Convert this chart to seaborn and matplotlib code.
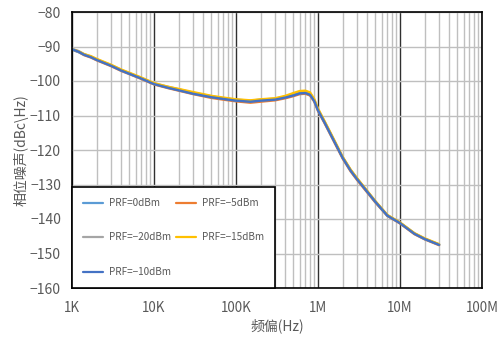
import numpy as np
import pandas as pd
import matplotlib
matplotlib.use("Agg")
import matplotlib.pyplot as plt
from matplotlib.ticker import FixedLocator, NullFormatter
from matplotlib.lines import Line2D
import seaborn as sns

sns.set_style("white")
plt.rcParams['font.family'] = ['Noto Sans CJK SC', 'DejaVu Sans']
plt.rcParams['axes.unicode_minus'] = True

freq = [1e3, 1.2e3, 1.4e3, 1.7e3, 2e3, 3e3, 4e3, 5e3, 7e3, 1e4, 1.5e4, 2e4, 3e4, 5e4, 7e4,
        1e5, 1.5e5, 2e5, 3e5, 4e5, 5e5, 6e5, 7e5, 8e5, 9e5, 1e6, 1.2e6, 1.5e6, 2e6, 2.5e6,
        3e6, 5e6, 7e6, 1e7, 1.5e7, 2e7, 3e7]

prf_0 = [-90.9, -91.6, -92.3, -93.0, -93.8, -95.5, -96.9, -97.9, -99.2, -100.8, -101.9, -102.6,
         -103.6, -104.6, -105.1, -105.6, -105.9, -105.6, -105.3, -104.7, -104.1, -103.5, -103.4,
         -103.9, -105.7, -108.4, -111.9, -116.4, -122.2, -125.9, -128.4, -135.0, -139.0, -141.1,
         -144.2, -145.8, -147.4]
prf_m5 = [-90.9, -91.6, -92.5, -93.2, -94.0, -95.7, -97.1, -98.0, -99.4, -101.0, -102.1, -102.8,
          -103.8, -104.9, -105.4, -105.9, -106.3, -106.0, -105.6, -105.0, -104.4, -103.8, -103.7,
          -104.2, -106.0, -108.7, -112.2, -116.7, -122.5, -126.2, -128.7, -135.2, -139.1, -141.3,
          -144.4, -145.9, -147.6]
prf_m20 = [-90.7, -91.3, -92.2, -92.9, -93.7, -95.4, -96.8, -97.7, -99.1, -100.7, -101.7, -102.4,
           -103.4, -104.4, -105.0, -105.4, -105.7, -105.4, -105.1, -104.5, -103.8, -103.2, -103.1,
           -103.6, -105.5, -108.2, -111.8, -116.3, -122.1, -125.8, -128.3, -134.9, -138.9, -141.1,
           -144.2, -145.7, -147.4]
prf_m15 = [-90.8, -91.4, -92.2, -92.8, -93.6, -95.3, -96.7, -97.6, -99.0, -100.6, -101.7, -102.3,
           -103.2, -104.3, -104.8, -105.3, -105.6, -105.3, -105.0, -104.3, -103.5, -102.9, -102.8,
           -103.3, -105.2, -108.0, -111.6, -116.1, -122.0, -125.7, -128.2, -134.8, -138.8, -141.0,
           -144.1, -145.6, -147.3]
prf_m10 = [-90.8, -91.5, -92.4, -93.1, -93.9, -95.6, -97.0, -97.9, -99.3, -100.9, -102.0, -102.7,
           -103.7, -104.7, -105.2, -105.7, -106.0, -105.7, -105.4, -104.8, -104.2, -103.6, -103.5,
           -104.0, -105.8, -108.5, -112.0, -116.5, -122.3, -126.0, -128.5, -135.0, -139.0, -141.2,
           -144.3, -145.8, -147.5]

series_names = ["PRF=0dBm", "PRF=-5dBm", "PRF=-20dBm", "PRF=-15dBm", "PRF=-10dBm"]
series_vals = [prf_0, prf_m5, prf_m20, prf_m15, prf_m10]
colors = {"PRF=0dBm": "#5B9BD5", "PRF=-5dBm": "#ED7D31", "PRF=-20dBm": "#A5A5A5",
          "PRF=-15dBm": "#FFC000", "PRF=-10dBm": "#4472C4"}

x_ticks = [1e3, 1e4, 1e5, 1e6, 1e7, 1e8]
x_ticklabels = ["1K", "10K", "100K", "1M", "10M", "100M"]
y_ticks = [-80, -90, -100, -110, -120, -130, -140, -150, -160]

rows = []
for name, vals in zip(series_names, series_vals):
    for f, v in zip(freq, vals):
        rows.append({"freq": f, "pn": v, "series": name})
df = pd.DataFrame(rows)

fig = plt.figure(figsize=(4.97, 3.37), dpi=100)
ax = fig.add_axes([72/497, 49/337, 410/497, 276/337])

draw_order = ["PRF=-20dBm", "PRF=-5dBm", "PRF=0dBm", "PRF=-15dBm", "PRF=-10dBm"]
sns.lineplot(data=df, x="freq", y="pn", hue="series", hue_order=draw_order,
             palette=colors, linewidth=1.7, ax=ax, legend=False, estimator=None)

ax.set_xscale("log")
ax.set_xlim(1e3, 1e8)
ax.set_ylim(-160, -80)
ax.xaxis.set_major_locator(FixedLocator(x_ticks))
ax.set_xticklabels(x_ticklabels)
ax.xaxis.set_minor_locator(FixedLocator([m * 10**e for e in range(3, 8) for m in range(2, 10)]))
ax.xaxis.set_minor_formatter(NullFormatter())
ax.set_yticks(y_ticks)
ax.set_yticklabels([f"\u2212{abs(t)}" for t in y_ticks])

ax.grid(False)
ax.grid(True, which="minor", axis="x", color="#BFBFBF", linewidth=1.0)
ax.grid(True, which="major", axis="x", color="#303030", linewidth=1.0)
ax.grid(True, which="major", axis="y", color="#BFBFBF", linewidth=1.0)
ax.set_axisbelow(True)

for s in ax.spines.values():
    s.set_visible(True)
    s.set_color("#000000")
    s.set_linewidth(1.2)

ax.tick_params(axis="both", which="both", length=0, labelsize=10, colors="#595959", pad=8)
ax.tick_params(axis="x", pad=9, labelsize=9.6)

ax.set_xlabel("频偏(Hz)", fontsize=10, color="#595959", labelpad=3)
ax.set_ylabel("相位噪声(dBc\\Hz)", fontsize=10, color="#595959", labelpad=1)

legend_order = ["PRF=0dBm", "PRF=-20dBm", "PRF=-10dBm", "PRF=-5dBm", "PRF=-15dBm"]
handles = [Line2D([0], [0], color=colors[n], linewidth=1.6) for n in legend_order]
leg = ax.legend(handles, [n.replace("-", "\u2212") for n in legend_order], ncol=2,
                loc="lower left", bbox_to_anchor=(0.0, 0.0), fontsize=7.2,
                frameon=True, fancybox=False, framealpha=1, edgecolor="#000000",
                labelspacing=2.45, handlelength=2.0, handletextpad=0.6, columnspacing=0.5,
                borderpad=1.1, borderaxespad=0.0, labelcolor="#595959")
leg.get_frame().set_linewidth(1.2)

fig.savefig("out.png", dpi=100)
